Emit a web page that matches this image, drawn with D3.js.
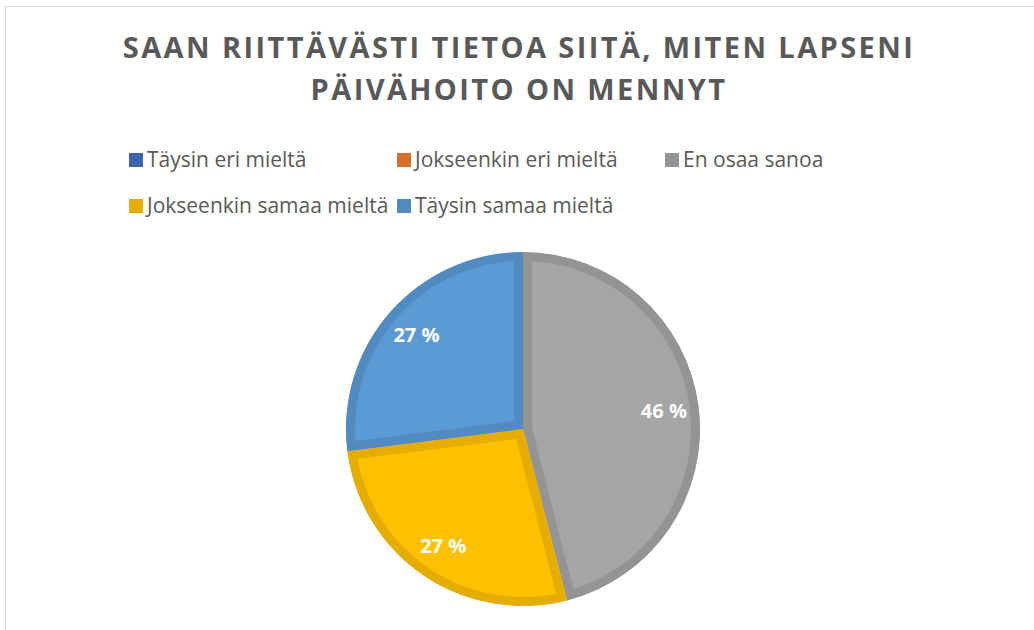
<!DOCTYPE html>
<html>
<head>
<meta charset="utf-8">
<script src="https://cdn.jsdelivr.net/npm/d3@7"></script>
<style>
  body { margin: 0; background: #fff; }
  svg { display: block; }
</style>
</head>
<body>
<svg id="chart" width="1034" height="630"></svg>
<script>
const titleLines = ['SAAN RIITTÄVÄSTI TIETOA SIITÄ, MITEN LAPSENI', 'PÄIVÄHOITO ON MENNYT']
const categories = ['Täysin eri mieltä', 'Jokseenkin eri mieltä', 'En osaa sanoa', 'Jokseenkin samaa mieltä', 'Täysin samaa mieltä']
const values = [0, 0, 46, 27, 27]
const fills = ['#4472C4', '#ED7D31', '#A5A5A5', '#FFC000', '#5B9BD5']

const W = 1034, H = 630
const cx = 523, cy = 429, R = 177
const band = 18

const svg = d3.select('#chart')

// chart frame
svg.append('rect')
   .attr('x', 5.5).attr('y', 6.5)
   .attr('width', W + 10).attr('height', H + 10)
   .attr('fill', '#fff')
   .attr('stroke', '#d9d9d9')
   .attr('stroke-width', 1)

// title
svg.append('g').selectAll('text')
   .data(titleLines)
   .enter()
   .append('text')
   .attr('x', 519)
   .attr('y', (d, i) => 58 + i * 42)
   .attr('text-anchor', 'middle')
   .attr('fill', '#595959')
   .style('font-family', '"Open Sans", sans-serif')
   .style('font-weight', 'bold')
   .style('font-size', '29px')
   .style('letter-spacing', '2.4px')
   .text(d => d)

const darker = c => d3.color(c).darker(0.3).formatHex()

// legend: three columns per row, items pushed right if the previous text is too long
const legendRows = [[0, 1, 2], [3, 4]]
const colX = [129, 397, 665]
const rowY = [167, 213]
const mk = 14

const legend = svg.append('g')
legendRows.forEach((row, r) => {
  let prevEnd = 0
  row.forEach((idx, c) => {
    const x = Math.max(colX[c], prevEnd + 3)
    const g = legend.append('g')
    g.append('rect')
     .attr('x', x).attr('y', rowY[r] - mk)
     .attr('width', mk).attr('height', mk)
     .attr('fill', darker(fills[idx]))
    const t = g.append('text')
     .attr('x', x + mk + 4)
     .attr('y', rowY[r])
     .attr('fill', '#595959')
     .style('font-family', '"Open Sans", sans-serif')
     .style('font-size', '21px')
     .text(categories[idx])
    prevEnd = x + mk + 4 + t.node().getComputedTextLength()
  })
})

// pie
const slices = categories.map((name, i) => ({ name, value: values[i], fill: fills[i] }))
const pie = d3.pie().sort(null).value(d => d.value)
const arc = d3.arc().innerRadius(0).outerRadius(R)
const labelArc = d3.arc().innerRadius(142).outerRadius(142)

const arcs = pie(slices).filter(d => d.data.value > 0)

const pieG = svg.append('g').attr('transform', `translate(${cx},${cy})`)

const defs = svg.append('defs')
defs.selectAll('clipPath')
    .data(arcs)
    .enter()
    .append('clipPath')
    .attr('id', (d, i) => `clip${i}`)
    .append('path')
    .attr('d', arc)

pieG.selectAll('path.slice')
    .data(arcs)
    .enter()
    .append('path')
    .attr('class', 'slice')
    .attr('d', arc)
    .attr('clip-path', (d, i) => `url(#clip${i})`)
    .attr('fill', d => d.data.fill)
    .attr('stroke', d => darker(d.data.fill))
    .attr('stroke-width', band)
    .attr('stroke-linejoin', 'miter')

pieG.selectAll('text.lbl')
    .data(arcs)
    .enter()
    .append('text')
    .attr('class', 'lbl')
    .attr('transform', d => `translate(${labelArc.centroid(d)})`)
    .attr('dy', '0.35em')
    .attr('text-anchor', 'middle')
    .attr('fill', '#fff')
    .style('font-family', '"Open Sans", sans-serif')
    .style('font-weight', 'bold')
    .style('font-size', '20px')
    .text(d => `${d.data.value} %`)
</script>
</body>
</html>
